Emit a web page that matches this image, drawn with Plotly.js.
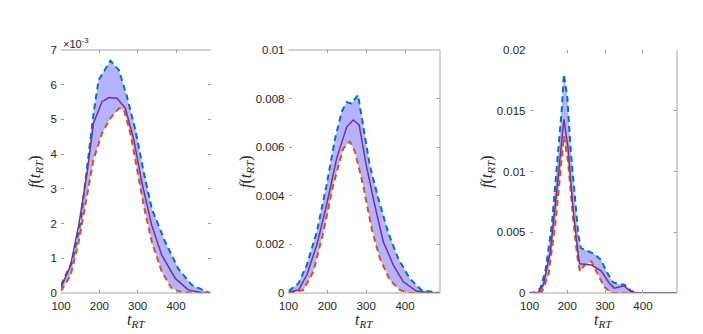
<!DOCTYPE html>
<html>
<head>
<meta charset="utf-8">
<script src="https://cdn.plot.ly/plotly-3.0.1.min.js"></script>
<style>
  html, body { margin: 0; padding: 0; background: #fff; }
  #plot { width: 703px; height: 334px; }
</style>
</head>
<body>
<div id="plot"></div>
<script>
// panel 1 (values in units of 1e-3)
var p1UpX  = [100, 129, 151, 172, 185, 198, 229, 251, 272, 294, 316, 337, 372, 406, 441, 484, 490];
var p1UpY  = [0.23, 0.9, 2.04, 3.94, 5.18, 6.13, 6.69, 6.42, 5.66, 4.7, 3.47, 2.42, 1.47, 0.7, 0.23, 0.02, 0];
var p1LoX  = [100, 125, 146, 164, 185, 207, 229, 251, 264, 281, 298, 316, 337, 363, 389, 415, 490];
var p1LoY  = [0.06, 0.51, 1.47, 2.6, 3.85, 4.6, 5.04, 5.32, 5.28, 4.6, 3.56, 2.51, 1.47, 0.61, 0.13, 0.02, 0];
var p1MidX = [100, 125, 146, 168, 185, 207, 225, 246, 268, 290, 311, 337, 363, 398, 432, 467, 490];
var p1MidY = [0.15, 0.8, 1.94, 3.47, 4.9, 5.51, 5.63, 5.61, 5.32, 4.42, 3.18, 1.94, 1.09, 0.42, 0.09, 0.01, 0];

// panel 2
var p2UpX  = [100, 126, 147, 173, 198, 220, 237, 250, 262, 279, 292, 309, 331, 356, 382, 412, 442, 490];
var p2UpY  = [0.00008, 0.0004, 0.00115, 0.00252, 0.00444, 0.00636, 0.00746, 0.00785, 0.0078, 0.00815, 0.00691, 0.00527, 0.0039, 0.00252, 0.00143, 0.0006, 0.00012, 0];
var p2LoX  = [100, 138, 164, 190, 215, 241, 258, 271, 292, 314, 335, 361, 387, 412, 490];
var p2LoY  = [0, 0.00012, 0.00088, 0.00252, 0.00444, 0.00595, 0.00623, 0.00582, 0.00444, 0.00266, 0.00143, 0.00053, 0.00012, 0, 0];
var p2MidX = [100, 126, 147, 173, 198, 224, 250, 267, 282, 300, 322, 344, 370, 395, 429, 464, 490];
var p2MidY = [0.00003, 0.00012, 0.00074, 0.00198, 0.00362, 0.00554, 0.00684, 0.00712, 0.00691, 0.00527, 0.00362, 0.00211, 0.00115, 0.00047, 0.00008, 0, 0];

// panel 3
var p3UpX  = [100, 116, 129, 142, 159, 176, 185, 191, 200, 209, 220, 229, 236, 255, 272, 290, 303, 320, 337, 350, 368, 381, 490];
var p3UpY  = [0, 0.00005, 0.0004, 0.0018, 0.0056, 0.0114, 0.015, 0.018, 0.0161, 0.0117, 0.0075, 0.0048, 0.0037, 0.0034, 0.0032, 0.0027, 0.0018, 0.0009, 0.0007, 0.0007, 0.0002, 0, 0];
var p3LoX  = [100, 133, 150, 168, 181, 191, 202, 215, 226, 233, 246, 264, 281, 298, 316, 490];
var p3LoY  = [0, 0.0001, 0.0015, 0.0056, 0.0097, 0.0129, 0.0108, 0.0062, 0.0031, 0.0018, 0.0023, 0.0026, 0.0015, 0.0005, 0, 0];
var p3MidX = [100, 124, 137, 155, 172, 191, 202, 215, 229, 233, 264, 290, 311, 324, 350, 368, 381, 490];
var p3MidY = [0, 0.00005, 0.0007, 0.0034, 0.0084, 0.0143, 0.0119, 0.007, 0.0031, 0.0024, 0.0023, 0.0018, 0.0008, 0.0004, 0.0006, 0.0001, 0, 0];

var xTicks = [100, 200, 300, 400];
var p1Ticks = [0, 1, 2, 3, 4, 5, 6, 7];
var p2Ticks = [0, 0.002, 0.004, 0.006, 0.008, 0.01];
var p2Labels = ["0", "0.002", "0.004", "0.006", "0.008", "0.01"];
var p3Ticks = [0, 0.005, 0.01, 0.015, 0.02];
var p3Labels = ["0", "0.005", "0.01", "0.015", "0.02"];

var fillCol = "rgba(179,179,255,1)";
var blue = "#0072BD", red = "#D95319", purple = "#7E2F8E";

function band(upX, upY, loX, loY, xa, ya) {
  return [
    { x: upX.concat(loX.slice().reverse()), y: upY.concat(loY.slice().reverse()),
      xaxis: xa, yaxis: ya, type: "scatter", mode: "lines", fill: "toself",
      fillcolor: fillCol, line: { width: 0 }, hoverinfo: "skip" },
    { x: upX, y: upY, xaxis: xa, yaxis: ya, type: "scatter", mode: "lines",
      line: { color: blue, width: 2, dash: "6px,4px" } },
    { x: loX, y: loY, xaxis: xa, yaxis: ya, type: "scatter", mode: "lines",
      line: { color: red, width: 2, dash: "6px,4px" } }
  ];
}

var data = []
  .concat(band(p1UpX, p1UpY, p1LoX, p1LoY, "x", "y"))
  .concat([{ x: p1MidX, y: p1MidY, xaxis: "x", yaxis: "y", mode: "lines", line: { color: purple, width: 1.5 } }])
  .concat(band(p2UpX, p2UpY, p2LoX, p2LoY, "x2", "y2"))
  .concat([{ x: p2MidX, y: p2MidY, xaxis: "x2", yaxis: "y2", mode: "lines", line: { color: purple, width: 1.5 } }])
  .concat(band(p3UpX, p3UpY, p3LoX, p3LoY, "x3", "y3"))
  .concat([{ x: p3MidX, y: p3MidY, xaxis: "x3", yaxis: "y3", mode: "lines", line: { color: purple, width: 1.5 } }]);

var tickFont = { family: "Liberation Sans, Arial, sans-serif", size: 11.5, color: "#262626" };
var yDom = [41 / 334, 284 / 334];

function xAx(dom, anchor) {
  return { domain: dom, anchor: anchor, range: [100, 490], tickvals: xTicks,
    ticks: "inside", ticklen: 3, tickcolor: "#999", mirror: "ticks", showline: false,
    showgrid: false, zeroline: false, tickfont: tickFont, ticklabelstandoff: 4, fixedrange: true };
}
function yAx(anchor, range, vals, labels) {
  return { domain: yDom, anchor: anchor, range: range, tickvals: vals, ticktext: labels,
    ticks: "inside", ticklen: 3, tickcolor: "#999", mirror: "ticks", showline: false,
    showgrid: false, zeroline: false, tickfont: tickFont, ticklabelstandoff: 3, fixedrange: true };
}

var d1 = [61 / 703, 210.5 / 703], d2 = [288.5 / 703, 440 / 703], d3 = [529.5 / 703, 677 / 703];

function edge(xref, yref, x0, y0, x1, y1) {
  return { type: "line", xref: xref, yref: yref, x0: x0, y0: y0, x1: x1, y1: y1,
    line: { color: "#a6a6a6", width: 1 }, layer: "above" };
}

var ylab = "<i>f</i>(<i>t</i><sub><i>RT</i></sub>)";
var xlab = "<i>t</i><sub><i>RT</i></sub>";
var labFont = { family: "Liberation Serif, DejaVu Serif, serif", size: 16, color: "#262626" };

function lab(text, px, py, angle) {
  return { text: text, xref: "paper", yref: "paper", x: px / 703, y: 1 - py / 334,
    xanchor: "center", yanchor: "middle", textangle: angle, showarrow: false, font: labFont };
}

var layout = {
  width: 703, height: 334,
  margin: { l: 0, r: 0, t: 0, b: 0 },
  paper_bgcolor: "#fff", plot_bgcolor: "#fff",
  showlegend: false,
  xaxis: xAx(d1, "y"), yaxis: yAx("x", [0, 7], p1Ticks, p1Ticks.map(String)),
  xaxis2: xAx(d2, "y2"), yaxis2: yAx("x2", [0, 0.01], p2Ticks, p2Labels),
  xaxis3: xAx(d3, "y3"), yaxis3: yAx("x3", [0, 0.02], p3Ticks, p3Labels),
  shapes: [
    edge("x domain", "y domain", 0, 0, 1, 0),
    edge("x domain", "y domain", 0, 1, 1, 1),
    edge("x2 domain", "y2 domain", 0, 0, 1, 0),
    edge("x2 domain", "y2 domain", 0, 1, 1, 1),
    edge("x2 domain", "y2 domain", 1, 0, 1, 1),
    edge("x3 domain", "y3 domain", 0, 0, 1, 0),
    edge("x3 domain", "y3 domain", 1, 0, 1, 1)
  ],
  annotations: [
    { text: "\u00d710<sup>-3</sup>", xref: "paper", yref: "paper", x: 61 / 703, y: 1 - 43 / 334,
      xanchor: "left", yanchor: "middle", showarrow: false,
      font: { family: "Liberation Sans, Arial, sans-serif", size: 11, color: "#262626" } },
    lab(ylab, 36, 172, -90),
    lab(ylab, 247, 172, -90),
    lab(ylab, 488, 172, -90),
    lab(xlab, 136, 320, 0),
    lab(xlab, 364, 320, 0),
    lab(xlab, 603, 320, 0)
  ]
};

Plotly.newPlot("plot", data, layout, { displayModeBar: false, staticPlot: true });
</script>
</body>
</html>
